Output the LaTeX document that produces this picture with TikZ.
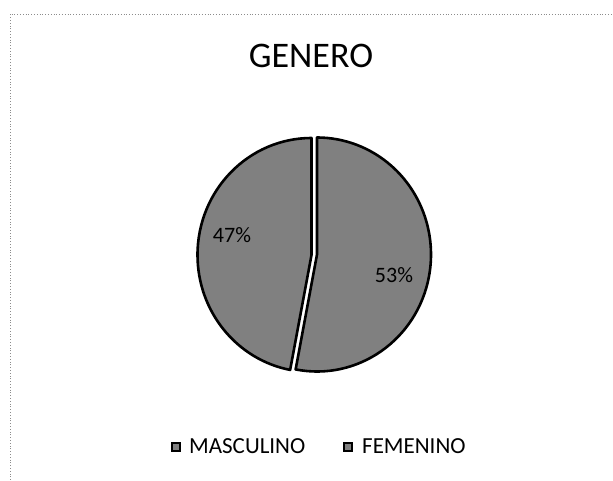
\documentclass[tikz,border=0pt]{standalone}
\usepackage{fontspec}
\setmainfont{Carlito}
\usetikzlibrary{calc}
\begin{document}
\begin{tikzpicture}[x=1pt,y=1pt,
  pieslice/.style={fill=black!50, draw=black, line width=2.6pt, line join=round},
  legendbox/.style={fill=black!50, draw=black, line width=1.2pt},
  scanframe/.style={draw=black!45, line width=0.8pt, dotted},
  titletext/.style={font=\fontsize{36}{40}\selectfont, anchor=base, inner sep=0pt},
  legendtext/.style={font=\fontsize{23}{26}\selectfont, anchor=base west, inner sep=0pt},
  pielabel/.style={font=\fontsize{22}{24}\selectfont, text=black, inner sep=0pt}]
\useasboundingbox (0,0) rectangle (613,481);
% scanned chart border
\coordinate (fa) at (10,1);
\coordinate (fb) at (10,467);
\coordinate (fc) at (613,467);
\draw[scanframe] (fa) -- (fb) -- (fc);
% title
\node[titletext] (title) at (311,413) {GENERO};
% pie
\coordinate (fem) at (317,226.5);
\coordinate (mas) at (311.5,226);
\filldraw[pieslice] (fem) -- ($(fem)+(-100.8:114 and 117)$) arc[start angle=-100.8, end angle=90, x radius=114, y radius=117] -- cycle;
\filldraw[pieslice] (mas) -- ($(mas)+(90:114 and 117)$) arc[start angle=90, end angle=259.2, x radius=114, y radius=117] -- cycle;
\node[pielabel] (lm) at (232,246) {47\%};
\node[pielabel] (lf) at (394,206) {53\%};
% legend
\node[legendbox, minimum size=8pt, inner sep=0pt] (km) at (176,34) {};
\node[legendtext] (tm) at (189,27) {MASCULINO};
\node[legendbox, minimum size=8pt, inner sep=0pt] (kf) at (348,34) {};
\node[legendtext] (tf) at (362,27) {FEMENINO};
\end{tikzpicture}
\end{document}
